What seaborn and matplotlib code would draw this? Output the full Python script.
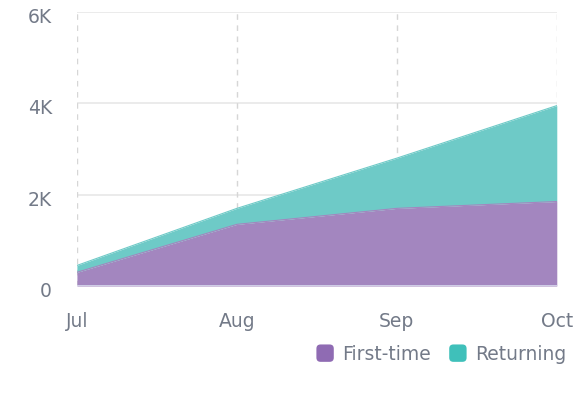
import matplotlib
matplotlib.use("Agg")
import matplotlib.pyplot as plt
import matplotlib.transforms as mtransforms
from matplotlib.patches import Patch, FancyBboxPatch
from matplotlib.legend_handler import HandlerPatch
from matplotlib.ticker import FuncFormatter
import seaborn as sns
import pandas as pd

months = ["Jul", "Aug", "Sep", "Oct"]
first_time = [300, 1350, 1700, 1850]
returning = [150, 350, 1100, 2100]
y_ticks = [0, 2000, 4000, 6000]

purple = "#a386bf"
teal = "#6ecac7"
purple_key = "#8f6bb3"
teal_key = "#3fc0ba"
text_col = "#737a88"
fs = 13.5

sns.set_theme(style="white")
plt.rcParams["font.family"] = ["DejaVu Sans"]

df = pd.DataFrame({"month": months, "First-time": first_time, "Returning": returning})
df["x"] = range(len(df))
df["total"] = df["First-time"] + df["Returning"]

fig = plt.figure(figsize=(5.74, 4.0), dpi=100)
ax = fig.add_axes([0.134, 0.285, 0.836, 0.685])

ax.fill_between(df["x"], 0, df["First-time"], color=purple, linewidth=0, zorder=3)
ax.fill_between(df["x"], df["First-time"], df["total"], color=teal, linewidth=0, zorder=3)
sns.lineplot(data=df, x="x", y="total", ax=ax, color=teal, linewidth=0.8, zorder=4)
sns.lineplot(data=df, x="x", y="First-time", ax=ax, color=purple, linewidth=0.8, zorder=4)

ax.set_xlim(0, len(months) - 1)
ax.set_ylim(0, 6000)
ax.set_xticks(df["x"])
ax.set_xticklabels(months)
ax.set_yticks(y_ticks)
ax.yaxis.set_major_formatter(FuncFormatter(lambda v, p: "0" if v == 0 else f"{int(v/1000)}K"))
ax.set_xlabel("")
ax.set_ylabel("")

for s in ax.spines.values():
    s.set_visible(False)

for v in y_ticks[1:]:
    ax.axhline(v, color="#e9e9e9", linewidth=1.3, zorder=1)
for x in df["x"]:
    ax.axvline(x, color="#d6d6d6", linewidth=1, linestyle=(0, (4, 4)), zorder=1)
ax.axhline(0, color="#d9dcef", linewidth=1.2, zorder=5)

ax.tick_params(axis="x", length=5, width=1, color="#d9dcef", pad=14, labelsize=fs, labelcolor=text_col)
ax.tick_params(axis="y", length=0, pad=18, labelsize=fs, labelcolor=text_col)
shift = mtransforms.ScaledTranslation(0, -0.035, fig.dpi_scale_trans)
for lab in ax.get_yticklabels():
    lab.set_horizontalalignment("right")
    lab.set_transform(lab.get_transform() + shift)


class RoundedHandler(HandlerPatch):
    def create_artists(self, legend, orig_handle, xdescent, ydescent, width, height, fontsize, trans):
        size = min(width, height)
        p = FancyBboxPatch((-xdescent + (width - size) / 2, -ydescent + (height - size) / 2), size, size,
                           boxstyle="round,pad=0,rounding_size=3",
                           facecolor=orig_handle.get_facecolor(), edgecolor="none", transform=trans)
        return [p]


handles = [Patch(facecolor=purple_key, edgecolor="none", label="First-time"),
           Patch(facecolor=teal_key, edgecolor="none", label="Returning")]
leg = fig.legend(handles=handles, loc="center right", bbox_to_anchor=(1.0, 0.115),
                 ncol=2, frameon=False, fontsize=fs, handlelength=1.05, handleheight=1.05,
                 handletextpad=0.4, columnspacing=0.9, borderaxespad=0.0,
                 handler_map={Patch: RoundedHandler()})
for t in leg.get_texts():
    t.set_color(text_col)

fig.savefig("out.png", dpi=100)
